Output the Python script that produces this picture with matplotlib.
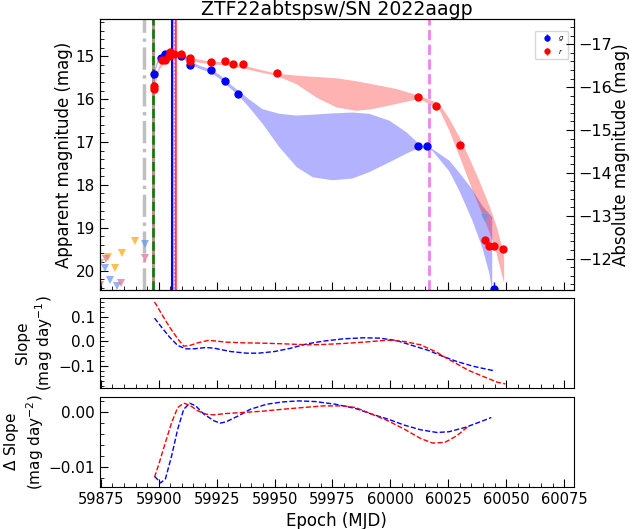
import matplotlib
matplotlib.use('Agg')
import matplotlib.pyplot as plt
from matplotlib.ticker import AutoMinorLocator, MultipleLocator

plt.rcParams['font.family'] = 'DejaVu Sans'

title = 'ZTF22abtspsw/SN 2022aagp'
dist_mod = 31.72

# detections
g_mjd = [59897.8, 59900.9, 59902.8, 59909.7, 59913.6, 59922.5, 59928.5, 59934.4, 60012.0, 60016.0, 60044.6]
g_mag = [15.42, 15.03, 14.94, 14.99, 15.21, 15.33, 15.58, 15.88, 17.10, 17.10, 20.42]
g_err = [0.03, 0.02, 0.02, 0.02, 0.02, 0.02, 0.02, 0.02, 0.03, 0.03, 0.15]

r_mjd = [59897.8, 59897.8, 59901.6, 59902.8, 59904.5, 59904.8, 59906.7, 59909.6, 59913.6, 59913.6,
         59922.5, 59928.5, 59932.2, 59936.3, 59951.0, 60012.0, 60019.9, 60030.0,
         60040.9, 60042.5, 60044.7, 60048.6]
r_mag = [15.70, 15.77, 15.08, 15.08, 15.00, 14.90, 14.95, 14.95, 15.05, 15.11,
         15.13, 15.10, 15.19, 15.19, 15.40, 15.95, 16.15, 17.07,
         19.28, 19.43, 19.43, 19.50]
r_err = [0.03, 0.03, 0.02, 0.02, 0.02, 0.02, 0.02, 0.02, 0.02, 0.02,
         0.02, 0.02, 0.02, 0.02, 0.02, 0.03, 0.03, 0.04,
         0.07, 0.06, 0.06, 0.06]

# non-detections (upper limits)
lim_g_mjd = [59877.0, 59879.0, 59882.2, 59894.1, 60041.0]
lim_g_mag = [19.95, 20.23, 20.36, 19.37, 18.77]
lim_r_mjd = [59874.8, 59877.1, 59883.7, 59894.1]
lim_r_mag = [20.33, 19.72, 20.29, 19.70]
lim_o_mjd = [59874.7, 59877.9, 59881.1, 59884.0, 59889.9]
lim_o_mag = [19.83, 19.68, 19.94, 19.60, 19.30]

# GP fit confidence bands
g_band_mjd = [59897.6, 59899.4, 59902.4, 59905.8, 59910.1, 59913.1, 59917.5, 59922.2, 59926.1, 59930.4,
              59934.7, 59939.0, 59944.6, 59951.9, 59959.3, 59966.2, 59974.8, 59983.4, 59990.7, 59999.4,
              60006.7, 60012.3, 60017.9, 60025.2, 60029.5, 60035.1, 60039.4, 60042.5, 60043.75]
g_band_hi = [15.35, 15.07, 14.91, 14.88, 14.93, 15.09, 15.21, 15.29, 15.42, 15.63,
             15.81, 16.00, 16.22, 16.33, 16.37, 16.35, 16.32, 16.30, 16.33, 16.49,
             16.76, 17.04, 17.15, 17.42, 17.70, 18.09, 18.47, 18.67, 18.74]
g_band_lo = [15.47, 15.16, 14.98, 14.95, 15.02, 15.17, 15.28, 15.37, 15.51, 15.72,
             15.93, 16.19, 16.56, 17.11, 17.57, 17.81, 17.88, 17.84, 17.69, 17.46,
             17.26, 17.12, 17.19, 17.67, 18.12, 18.81, 19.44, 20.05, 20.47]

r_band_mjd = [59897.6, 59900.2, 59902.4, 59904.5, 59907.5, 59910.1, 59913.1, 59917.5, 59922.2, 59926.1,
              59930.4, 59936.9, 59943.3, 59950.6, 59959.3, 59967.9, 59976.5, 59985.1, 59992.0, 60002.4,
              60012.3, 60020.9, 60025.2, 60029.5, 60033.8, 60038.1, 60042.5, 60045.5, 60048.1, 60048.9]
r_band_hi = [15.65, 15.19, 15.02, 14.93, 14.91, 14.91, 15.01, 15.07, 15.11, 15.12,
             15.15, 15.21, 15.30, 15.39, 15.44, 15.47, 15.50, 15.57, 15.64, 15.75,
             15.91, 16.09, 16.44, 16.86, 17.35, 17.88, 18.47, 18.93, 19.44, 19.67]
r_band_lo = [15.79, 15.30, 15.12, 15.02, 14.99, 14.99, 15.09, 15.14, 15.17, 15.19,
             15.21, 15.28, 15.36, 15.44, 15.64, 15.95, 16.18, 16.26, 16.22, 16.10,
             15.98, 16.23, 16.72, 17.30, 17.91, 18.49, 19.09, 19.56, 20.12, 20.28]

# slope of the GP mean
slope_g_mjd = [59898.2, 59901.2, 59904.7, 59908.2, 59911.7, 59915.2, 59920.4, 59923.9, 59930.9, 59937.9,
               59943.1, 59950.1, 59957.1, 59964.1, 59971.1, 59979.8, 59988.5, 59995.5, 60002.5, 60009.5,
               60016.5, 60021.7, 60028.7, 60035.7, 60040.9, 60044.4]
slope_g = [0.095, 0.0585, 0.0177, -0.0163, -0.0299, -0.0299, -0.0245, -0.0272, -0.0408, -0.0476,
           -0.0476, -0.0408, -0.0272, -0.0095, 0.0014, 0.0109, 0.0150, 0.0136, 0.0041, -0.0163,
           -0.0367, -0.0571, -0.0816, -0.1007, -0.1116, -0.1184]
slope_r_mjd = [59898.2, 59901.2, 59904.7, 59908.2, 59910.8, 59913.4, 59916.9, 59921.3, 59923.9, 59929.1,
               59936.1, 59944.9, 59953.6, 59964.1, 59971.1, 59979.8, 59988.5, 59999.0, 60006.0, 60013.0,
               60020.0, 60023.5, 60028.7, 60033.9, 60040.9, 60046.2, 60049.65]
slope_r = [0.161, 0.113, 0.0585, 0.0109, -0.019, -0.0163, -0.0054, 0.0041, 0.0027, -0.0027,
           -0.0054, -0.0068, -0.0095, -0.0136, -0.0122, -0.0082, -0.0027, 0.0054, 0.0, -0.0136,
           -0.0435, -0.0639, -0.0912, -0.1184, -0.1456, -0.166, -0.1728]

# change of slope
dslope_g_mjd = [59898.2, 59900.85, 59902.9, 59905.6, 59908.2, 59910.8, 59913.4, 59916.0, 59919.5, 59923.9,
                59926.5, 59929.1, 59934.4, 59939.6, 59946.6, 59953.6, 59960.6, 59967.6, 59976.3, 59985.0,
                59992.0, 59999.0, 60006.0, 60013.0, 60020.0, 60025.2, 60032.2, 60039.2, 60043.55]
dslope_g = [-0.01176, -0.01297, -0.01224, -0.008, -0.00315, 0.00048, 0.00158, 0.00109, -0.00042, -0.00164,
            -0.00206, -0.00182, -0.00073, 0.00048, 0.00139, 0.00182, 0.002, 0.00188, 0.00139, 0.00061,
            -0.00042, -0.00133, -0.00242, -0.00327, -0.00376, -0.00364, -0.00285, -0.00176, -0.00103]
dslope_r_mjd = [59898.2, 59900.3, 59902.9, 59905.6, 59908.2, 59910.8, 59913.4, 59916.9, 59920.4, 59923.9,
                59929.1, 59936.1, 59944.9, 59953.6, 59962.3, 59971.1, 59979.8, 59985.0, 59992.0, 59999.0,
                60006.0, 60013.0, 60018.2, 60023.5, 60028.7, 60033.9]
dslope_r = [-0.01194, -0.00921, -0.00558, -0.00194, 0.00079, 0.00158, 0.00121, 0.00018, -0.00042, -0.00055,
            -0.0003, -0.00012, 0.00012, 0.00048, 0.00079, 0.00109, 0.00109, 0.00079, -0.00042, -0.00164,
            -0.00315, -0.00485, -0.0057, -0.00558, -0.00436, -0.00255]

# epochs of interest
t_last_nondet = 59893.7
t_first_det = 59897.6
t_peak_g = 59905.9
t_peak = 59906.7
t_peak_r = 59907.5
t_spec = 60016.8

xlim = (59874.6, 60079.2)
ylim = (20.45, 14.13)

fig = plt.figure(figsize=(6.32, 5.29), dpi=100)
ax1 = fig.add_axes([0.158, 0.452, 0.750, 0.512])
ax2 = fig.add_axes([0.158, 0.2665, 0.750, 0.1705])
ax3 = fig.add_axes([0.158, 0.0794, 0.750, 0.1705])

# light curve panel
ax1.fill_between(g_band_mjd, g_band_hi, g_band_lo, color='blue', alpha=0.3, lw=0)
ax1.fill_between(r_band_mjd, r_band_hi, r_band_lo, color='red', alpha=0.3, lw=0)

ax1.axvline(t_last_nondet, color='gray', alpha=0.5, lw=2.5, ls='-.')
ax1.axvline(t_first_det, color='rosybrown', lw=2.2)
ax1.axvline(t_first_det, color='green', lw=1.8, ls='--')
ax1.axvline(t_peak_g, color='blue', lw=1.5)
ax1.axvline(t_peak, color='violet', lw=2.2)
ax1.axvline(t_peak, color='white', lw=1, ls=':')
ax1.axvline(t_peak_r, color='red', alpha=0.6, lw=1.6)
ax1.axvline(t_spec, color='violet', lw=2, ls='--')

ax1.plot(lim_o_mjd, lim_o_mag, 'v', color='orange', alpha=0.7, ms=6, mew=0)
ax1.plot(lim_g_mjd, lim_g_mag, 'v', color='cornflowerblue', alpha=0.7, ms=6, mew=0)
ax1.plot(lim_r_mjd, lim_r_mag, 'v', color='palevioletred', alpha=0.7, ms=6, mew=0)

ax1.errorbar(g_mjd, g_mag, yerr=g_err, fmt='o', color='blue', ms=5, elinewidth=1, label='$g$')
ax1.errorbar(r_mjd, r_mag, yerr=r_err, fmt='o', color='red', ms=5, elinewidth=1, label='$r$')

ax1.set_xlim(xlim)
ax1.set_ylim(ylim)
ax1.set_title(title, fontsize=13.6, pad=1)
ax1.set_ylabel('Apparent magnitude (mag)', fontsize=12, labelpad=2)
ax1.legend(loc='upper right', fontsize=5, markerscale=0.7, handletextpad=0.6,
           borderpad=0.5, handlelength=2.2, bbox_to_anchor=(0.995, 0.97))
ax1.tick_params(labelbottom=False)

ax1r = ax1.twinx()
ax1r.set_ylim(ylim[0] - dist_mod, ylim[1] - dist_mod)
ax1r.set_ylabel('Absolute magnitude (mag)', fontsize=12, labelpad=0)

# slope panels
ax2.plot(slope_g_mjd, slope_g, '--', color='blue', lw=1)
ax2.plot(slope_r_mjd, slope_r, '--', color='red', lw=1)
ax2.set_ylabel('Slope\n(mag day$^{-1}$)', fontsize=11)
ax2.yaxis.set_major_locator(MultipleLocator(0.1))
ax2.tick_params(labelbottom=False)

ax3.plot(dslope_g_mjd, dslope_g, '--', color='blue', lw=1)
ax3.plot(dslope_r_mjd, dslope_r, '--', color='red', lw=1)
ax3.set_ylabel('$\\Delta$ Slope\n(mag day$^{-2}$)', fontsize=11)
ax3.yaxis.set_major_locator(MultipleLocator(0.01))
ax3.set_xlabel('Epoch (MJD)', fontsize=12)

for ax in (ax1, ax2, ax3):
    ax.set_xlim(xlim)
    ax.xaxis.set_major_locator(MultipleLocator(25))
    ax.xaxis.set_minor_locator(AutoMinorLocator())
    ax.yaxis.set_minor_locator(AutoMinorLocator())
    ax.tick_params(which='both', direction='in')
    ax.tick_params(axis='x', labelsize=10.5)
    ax.tick_params(axis='y', labelsize=11)
    ax.tick_params(which='major', length=6)
    ax.tick_params(which='minor', length=3)
ax2.yaxis.labelpad = 2
ax3.yaxis.labelpad = 2
ax1r.yaxis.set_minor_locator(AutoMinorLocator())
ax1r.tick_params(which='both', direction='in', labelsize=11.5)
ax1r.tick_params(which='major', length=6)
ax1r.tick_params(which='minor', length=3)

fig.savefig('out.png', dpi=100)
